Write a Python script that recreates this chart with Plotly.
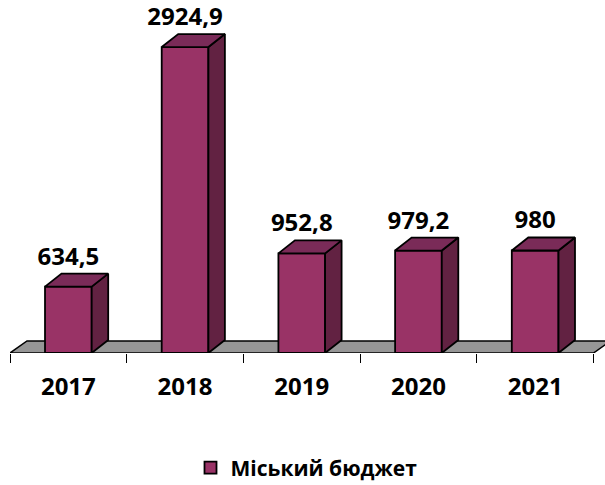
import plotly.graph_objects as go

# ---- data ----
years = ["2017", "2018", "2019", "2020", "2021"]
values = [634.5, 2924.9, 952.8, 979.2, 980.0]
value_labels = ["634,5", "2924,9", "952,8", "979,2", "980"]
series_name = "Міський бюджет"

# ---- style ----
FRONT = "#993366"
TOP = "#7a2b58"
SIDE = "#622242"
FLOOR = "#969696"
FONT = "Open Sans"
W, H = 605, 485
ML, MR, MT, MB = 10, 0, 8, 132
PX_PER_CAT = 116.7
PX_PER_UNIT = 0.1046

plot_w = W - ML - MR
plot_h = H - MT - MB
x_range = [-0.5, -0.5 + plot_w / PX_PER_CAT]
y_range = [0, plot_h / PX_PER_UNIT]

bar_w = 0.40
dx = 16.5 / PX_PER_CAT          # depth offset (x units)
dy = 13.0 / PX_PER_UNIT         # depth offset (y units)
fdx = 17.0 / PX_PER_CAT
fdy = 12.0 / PX_PER_UNIT
label_gap = 3.0 / PX_PER_UNIT

xs = list(range(len(years)))

fig = go.Figure()

# front faces
fig.add_trace(go.Bar(
    x=xs, y=values, width=bar_w, name=series_name,
    marker=dict(color=FRONT, line=dict(color="black", width=1.8)),
    showlegend=True, hoverinfo="skip",
))

# side and top faces (derived from the data)
for x, v in zip(xs, values):
    r = x + bar_w / 2
    l = x - bar_w / 2
    fig.add_trace(go.Scatter(
        x=[r, r + dx, r + dx, r, r], y=[0, dy, v + dy, v, 0],
        fill="toself", fillcolor=SIDE, mode="lines",
        line=dict(color="black", width=1.8), showlegend=False, hoverinfo="skip",
    ))
    fig.add_trace(go.Scatter(
        x=[l, l + dx, r + dx, r, l], y=[v, v + dy, v + dy, v, v],
        fill="toself", fillcolor=TOP, mode="lines",
        line=dict(color="black", width=1.8), showlegend=False, hoverinfo="skip",
    ))

# value labels
fig.add_trace(go.Scatter(
    x=xs, y=[v + dy + label_gap for v in values], mode="text", text=value_labels,
    textposition="top center", cliponaxis=False,
    textfont=dict(family=FONT, size=24, color="black", weight="bold"),
    showlegend=False, hoverinfo="skip",
))

# floor
n = len(years)
fig.add_shape(
    type="path", layer="below", xref="x", yref="y",
    path=f"M {-0.5},0 L {n-0.5},0 L {n-0.5+fdx},{fdy} L {-0.5+fdx},{fdy} Z",
    fillcolor=FLOOR, line=dict(color="black", width=1.5),
)

fig.update_layout(
    width=W, height=H,
    margin=dict(l=ML, r=MR, t=MT, b=MB),
    plot_bgcolor="white", paper_bgcolor="white",
    font=dict(family=FONT, color="black"),
    xaxis=dict(
        range=x_range, tickmode="array", tickvals=xs, ticktext=years,
        ticks="", showgrid=False, zeroline=False, showline=False,
        tickfont=dict(family=FONT, size=24, color="black", weight="bold"),
        ticklabelstandoff=17, automargin=False,
        minor=dict(tickmode="array", tickvals=[i - 0.5 for i in range(n + 1)],
                   ticks="outside", ticklen=9, tickcolor="black", tickwidth=1,
                   showgrid=False),
    ),
    yaxis=dict(range=y_range, visible=False, showgrid=False, zeroline=False,
               automargin=False),
    legend=dict(
        orientation="h", x=0.5 - 1 / plot_w, xanchor="center",
        yref="container", y=17 / H, yanchor="middle",
        font=dict(family=FONT, size=21, color="black", weight="bold"),
        itemwidth=30,
    ),
    bargap=0,
)

fig.write_html(
    "out.html",
    config={"displayModeBar": False, "staticPlot": True},
    post_script="document.body.style.margin='0';document.body.style.overflow='hidden';",
)
